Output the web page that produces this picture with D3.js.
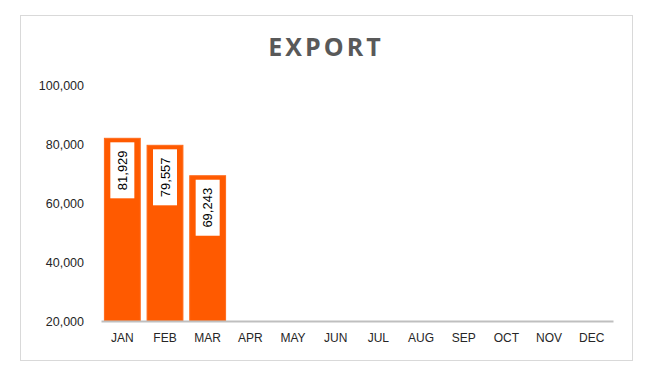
<!DOCTYPE html>
<html>
<head>
<meta charset="utf-8">
<script src="https://cdn.jsdelivr.net/npm/d3@7"></script>
<style>
  html, body { margin: 0; padding: 0; background: #fff; }
  svg { display: block; }
</style>
</head>
<body>
<svg id="chart" width="652" height="382"></svg>
<script>
const months = ["JAN","FEB","MAR","APR","MAY","JUN","JUL","AUG","SEP","OCT","NOV","DEC"];
const exportValues = [81929, 79557, 69243, null, null, null, null, null, null, null, null, null];
const yTicks = [20000, 40000, 60000, 80000, 100000];
const chartTitle = "EXPORT";

const svg = d3.select("#chart");
const fontFam = "'Liberation Sans', Arial, sans-serif";

// outer frame
svg.append("rect")
  .attr("x", 20.5).attr("y", 15.5)
  .attr("width", 612).attr("height", 345)
  .attr("fill", "#fff")
  .attr("stroke", "#d9d9d9").attr("stroke-width", 1);

const x = d3.scaleBand().domain(months).range([101, 613]).paddingInner(0.16).paddingOuter(0.08);
const y = d3.scaleLinear().domain([20000, 100000]).range([321, 85]);

// title
svg.append("text")
  .attr("x", 326).attr("y", 56)
  .attr("text-anchor", "middle")
  .attr("font-family", "'Open Sans', sans-serif")
  .attr("font-weight", "bold")
  .attr("font-size", 25)
  .attr("letter-spacing", 3)
  .attr("fill", "#595959")
  .text(chartTitle);

// y axis labels
const yAxis = d3.axisLeft(y).tickValues(yTicks).tickFormat(d3.format(",")).tickSize(0).tickPadding(0);
const yg = svg.append("g").attr("transform", "translate(84,0)").call(yAxis);
yg.select(".domain").remove();
yg.selectAll("text")
  .attr("font-family", fontFam).attr("font-size", 12.5).attr("fill", "#262626");

// bars
const data = months.map((m, i) => ({m, v: exportValues[i]})).filter(d => d.v != null);
svg.append("g").selectAll("rect").data(data).join("rect")
  .attr("x", d => x(d.m))
  .attr("y", d => y(d.v))
  .attr("width", x.bandwidth())
  .attr("height", d => y(20000) - y(d.v))
  .attr("fill", "#ff5a00")
  .attr("stroke", "#ff6a1a").attr("stroke-width", 1);

// x axis
const xAxis = d3.axisBottom(x).tickSize(0).tickPadding(12);
const xg = svg.append("g").attr("transform", "translate(0,321)").call(xAxis);
xg.select(".domain").attr("stroke", "#bfbfbf").attr("stroke-width", 2);
xg.selectAll("text")
  .attr("font-family", fontFam).attr("font-size", 12).attr("fill", "#262626");

// data labels
const lbl = svg.append("g").selectAll("g").data(data).join("g")
  .attr("transform", d => `translate(${x(d.m) + x.bandwidth() / 2},${y(d.v) + 4})`);
lbl.append("rect")
  .attr("x", -12).attr("y", 0).attr("width", 24).attr("height", 56)
  .attr("fill", "#fff");
lbl.append("text")
  .attr("transform", "translate(0,28) rotate(-90)")
  .attr("text-anchor", "middle")
  .attr("dy", "0.35em")
  .attr("font-family", fontFam).attr("font-size", 13).attr("fill", "#000")
  .text(d => d3.format(",")(d.v));
</script>
</body>
</html>
